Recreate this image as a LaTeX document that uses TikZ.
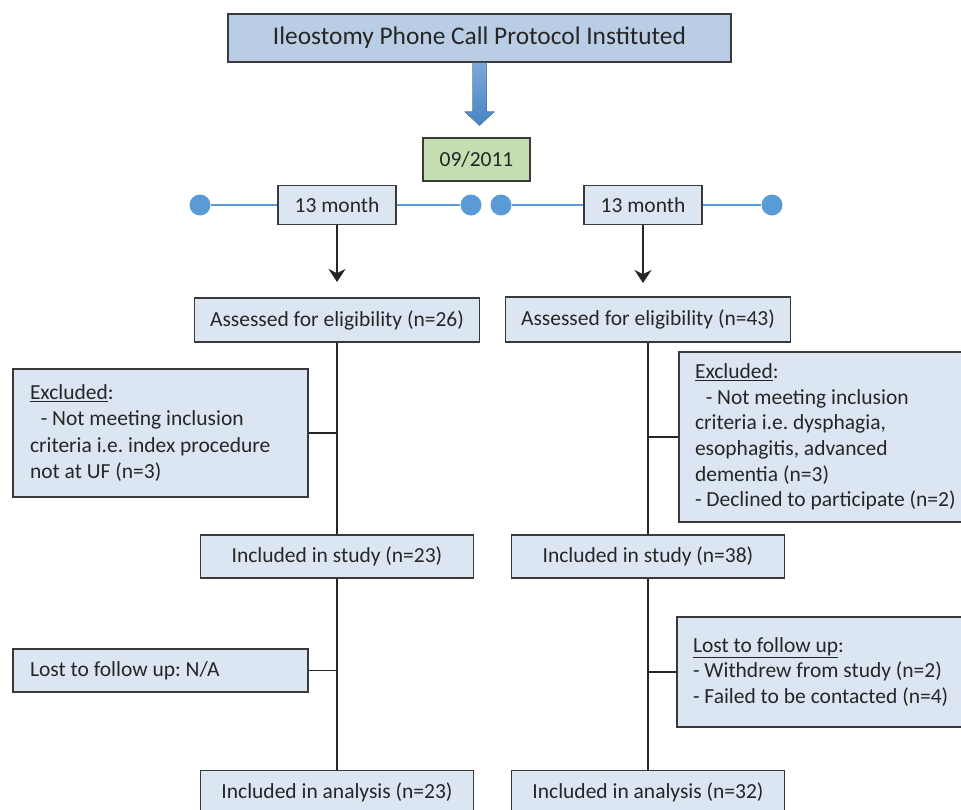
\documentclass[tikz,border=0pt]{standalone}
\usepackage{fontspec}
\setmainfont{Carlito}
\usetikzlibrary{arrows.meta,calc}
\frenchspacing

\definecolor{boxblue}{HTML}{DCE6F2}
\definecolor{titleblue}{HTML}{B9CDE5}
\definecolor{dategreen}{HTML}{C4DEB2}
\definecolor{lineblue}{HTML}{5B9BD5}
\definecolor{arrowtop}{HTML}{7DA9D9}
\definecolor{arrowbot}{HTML}{4683C4}
\definecolor{edgegray}{HTML}{3A3A3A}

\begin{document}
\begin{tikzpicture}[x=1pt,y=-1pt]

    \tikzset{
      box/.style={
        draw=edgegray,
        line width=1.3pt,
        fill=boxblue,
        inner sep=0pt,
        text=black!85,
        font=\fontsize{21.5}{25.6}\selectfont,
      },
      leftbox/.style={
        box,
        align=flush left,
        text width=#1,
      },
      dot/.style={
        circle,
        fill=lineblue,
        inner sep=0pt,
        minimum size=21pt,
      },
      tline/.style={lineblue, line width=2pt},
      link/.style={black!85, line width=1.5pt},
    }
    \useasboundingbox (0,0) rectangle (961,809);
    \clip (0,0) rectangle (961,809);

	% top of the timeline
	\node[box, fill=titleblue, minimum width=503pt, minimum height=48pt, font=\fontsize{25.4}{30}\selectfont] (title) at (479.5,38) {Ileostomy Phone Call Protocol Instituted};
	\node[box, fill=dategreen, minimum width=107pt, minimum height=43pt] (date) at (476.5,159.5) {09/2011};
	\begin{scope}[shift={(title.south)}]
	\fill[top color=arrowtop, bottom color=arrowbot] (-7,0) -- (-7,49) -- (-15,49) -- (0,63) -- (15,49) -- (7,49) -- (7,0) -- cycle;
	\end{scope}

	% two periods
	\node[dot] (dotA) at (200,205) {};
	\node[dot] (dotB) at (471,205) {};
	\node[dot] (dotC) at (501,205) {};
	\node[dot] (dotD) at (772,205) {};
	\node[box, minimum width=118pt, minimum height=39pt] (monthL) at (337,205) {13 month};
	\node[box, minimum width=118pt, minimum height=39pt] (monthR) at (643,205) {13 month};
	\draw[tline] (dotA) -- (monthL);
	\draw[tline] (monthL) -- (dotB);
	\draw[tline] (dotC) -- (monthR);
	\draw[tline] (monthR) -- (dotD);
	\coordinate (endL) at (337,282);
	\coordinate (endR) at (643,283);
	\draw[link, -{Stealth[length=13pt,width=17pt]}] (monthL) -- (endL);
	\draw[link, -{Stealth[length=13pt,width=17pt]}] (monthR) -- (endR);

	% left column
	\node[box, minimum width=285pt, minimum height=44pt] (assessL) at (337,320) {Assessed for eligibility (n=26)};
	\node[leftbox=261pt, minimum width=295pt, minimum height=128pt, font=\fontsize{21.5}{26.3}\selectfont] (exclL) at (160.5,433) {\underline{Excluded}:\\\hspace*{0.5em}- Not meeting inclusion\\criteria i.e. index procedure\\not at UF (n=3)};
	\node[box, minimum width=273pt, minimum height=43pt] (inclL) at (337,556.5) {Included in study (n=23)};
	\node[leftbox=261pt, minimum width=295pt, minimum height=43pt] (lostL) at (160.5,670.5) {Lost to follow up: N/A};
	\node[box, minimum width=273pt, minimum height=43pt] (analL) at (337,792) {Included in analysis (n=23)};
	\draw[link] (assessL) -- (inclL);
	\draw[link] (inclL) -- (analL);
	\draw[link] (exclL.east) -- (exclL.east -| assessL.south);
	\draw[link] (lostL.east) -- (lostL.east -| inclL.south);

	% right column
	\node[box, minimum width=285pt, minimum height=45pt] (assessR) at (648,319.5) {Assessed for eligibility (n=43)};
	\node[leftbox=268pt, minimum width=300pt, minimum height=170pt] (exclR) at (829,437) {\underline{Excluded}:\\\hspace*{0.5em}- Not meeting inclusion\\criteria i.e. dysphagia,\\esophagitis, advanced\\dementia (n=3)\\- Declined to participate (n=2)};
	\node[box, minimum width=273pt, minimum height=43pt] (inclR) at (648,556.5) {Included in study (n=38)};
	\node[leftbox=268pt, minimum width=300pt, minimum height=110pt] (lostR) at (827,672) {\underline{Lost to follow up}:\\- Withdrew from study (n=2)\\- Failed to be contacted (n=4)};
	\node[box, minimum width=273pt, minimum height=43pt] (analR) at (648,792) {Included in analysis (n=32)};
	\draw[link] (assessR) -- (inclR);
	\draw[link] (inclR) -- (analR);
	\draw[link] (exclR.west) -- (exclR.west -| assessR.south);
	\draw[link] (lostR.west) -- (lostR.west -| inclR.south);

\end{tikzpicture}
\end{document}
